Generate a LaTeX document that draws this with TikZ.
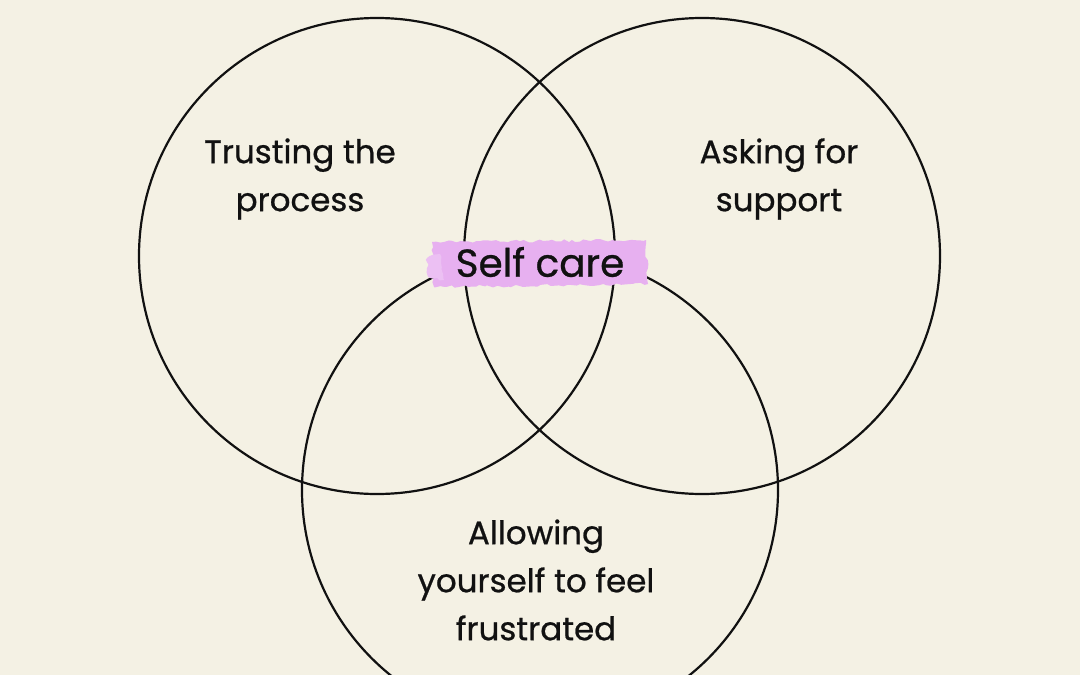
\documentclass[tikz,border=0pt]{standalone}
\usepackage{fontspec}
\setmainfont{Poppins}
\newfontfamily\vennfont{Poppins}[FakeBold=0.7]
\usepackage{tikz}
\usetikzlibrary{shapes,
				calc,
				decorations.pathmorphing}

\definecolor{paper}{RGB}{244,241,228}
\definecolor{brushpink}{RGB}{231,176,240}
\definecolor{ink}{RGB}{17,17,17}

\begin{document}
\begin{tikzpicture}[x=1pt, y=-1pt,
	ring/.style={draw=ink, line width=2.2pt, circle, minimum size=476pt, inner sep=0pt},
	label/.style={text=ink, align=center, font=\vennfont\fontsize{32.5}{48}\selectfont},
	brush/.style={fill=brushpink, decorate, decoration={random steps, segment length=4pt, amplitude=1.4pt}}]

\pgfmathsetseed{7}
\fill[paper] (0,0) rectangle (1080,675);
\useasboundingbox (0,0) rectangle (1080,675);
\clip (0,0) rectangle (1080,675);

\node[ring] (trustring) at (377,256) {};
\node[ring] (askring) at (702,256) {};
\node[ring] (allowring) at (540,490) {};

% brush stroke behind the middle label
\fill[brush] (432,242) -- (646,240) -- (648,284) -- (434,287) -- cycle;
\fill[brush, brushpink!80!white] (427,258) -- (440,254) -- (444,280) -- (428,277) -- cycle;

\node[label] (trust) at (300,179) {Trusting the\\process};
\node[label] (ask) at (779,179) {Asking for\\support};
\node[label, font=\vennfont\fontsize{39}{44}\selectfont] (selfcare) at (540,262) {Self care};
\node[label] (allow) at (536,580) {Allowing\\yourself to feel\\frustrated};

\end{tikzpicture}
\end{document}
